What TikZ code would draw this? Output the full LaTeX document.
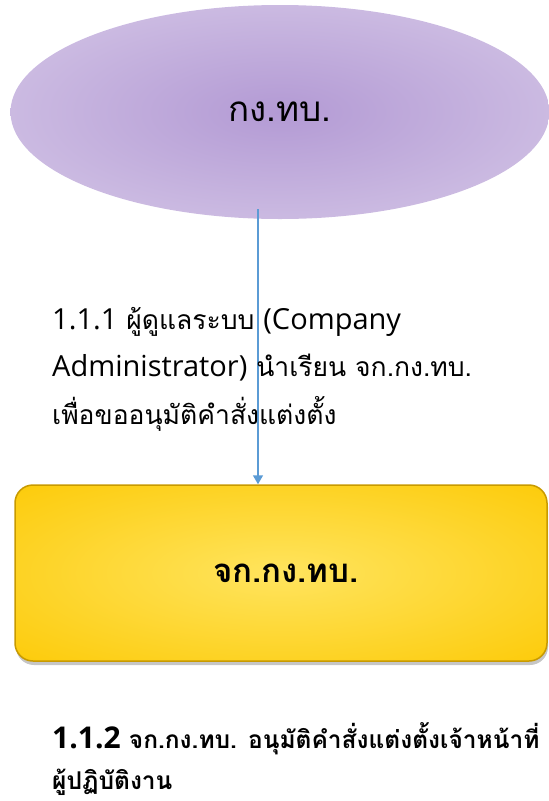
\documentclass[tikz,border=0pt]{standalone}
\usepackage{fontspec}
\setmainfont[Script=Thai]{Loma}
\newfontfamily\latinfont{Open Sans}
\usetikzlibrary{shapes.geometric,shadows,arrows.meta}
\definecolor{ellin}{HTML}{B39AD4}
\definecolor{ellout}{HTML}{E3DAEF}
\definecolor{boxin}{HTML}{FFE45E}
\definecolor{boxout}{HTML}{FCC800}
\definecolor{boxedge}{HTML}{C89A00}
\definecolor{arrowblue}{HTML}{5B9BD5}
\newcommand{\lt}[1]{{\latinfont\fontsize{29}{47.5}\selectfont #1}}
\newcommand{\ltb}[1]{{\latinfont\fontsize{30}{41}\selectfont #1}}
\pgfdeclareradialshading{ellshade}{\pgfpoint{0bp}{0bp}}{color(0bp)=(ellin); color(50bp)=(ellout); color(75bp)=(ellout)}
\pgfdeclareradialshading{boxshade}{\pgfpoint{0bp}{0bp}}{color(0bp)=(boxin); color(40bp)=(boxout); color(75bp)=(boxout)}
\begin{document}
\begin{tikzpicture}[x=1pt,y=-1pt,
  unitell/.style={ellipse, minimum width=539pt, minimum height=214pt, inner sep=0pt, shading=ellshade, draw=none, font=\fontsize{35}{40}\selectfont},
  unitbox/.style={rounded corners=18pt, minimum width=532pt, minimum height=176pt, inner sep=0pt, shading=boxshade, draw=boxedge, line width=1.5pt, drop shadow={shadow xshift=1pt, shadow yshift=-4pt, opacity=0.45}, font=\bfseries\fontsize{33}{38}\selectfont},
  steptext/.style={anchor=north west, align=left, inner sep=0pt, font=\fontsize{26.5}{47.5}\selectfont},
  flow/.style={draw=arrowblue, line width=1.5pt, -{Triangle[length=9pt,width=10pt]}}]
\useasboundingbox (0,0) rectangle (549,801);
\node[unitell] (org) at (280,112) {กง.ทบ.};
\node[unitbox] (chief) at (281,573) {\hspace{10pt}จก.กง.ทบ.};
\coordinate (start) at (258,209);
\draw[flow] (start) -- (chief.north -| start);
\node[steptext] (s1) at (52,307) {\lt{1.1.1} ผู้ดูแลระบบ \lt{(Company}\\\lt{Administrator)} นำเรียน จก.กง.ทบ.\\เพื่อขออนุมัติคำสั่งแต่งตั้ง};
\node[steptext, font=\bfseries\fontsize{24.5}{41}\selectfont] (s2) at (52,722) {\ltb{1.1.2} จก.กง.ทบ. อนุมัติคำสั่งแต่งตั้งเจ้าหน้าที่\\ผู้ปฏิบัติงาน};
\end{tikzpicture}
\end{document}
